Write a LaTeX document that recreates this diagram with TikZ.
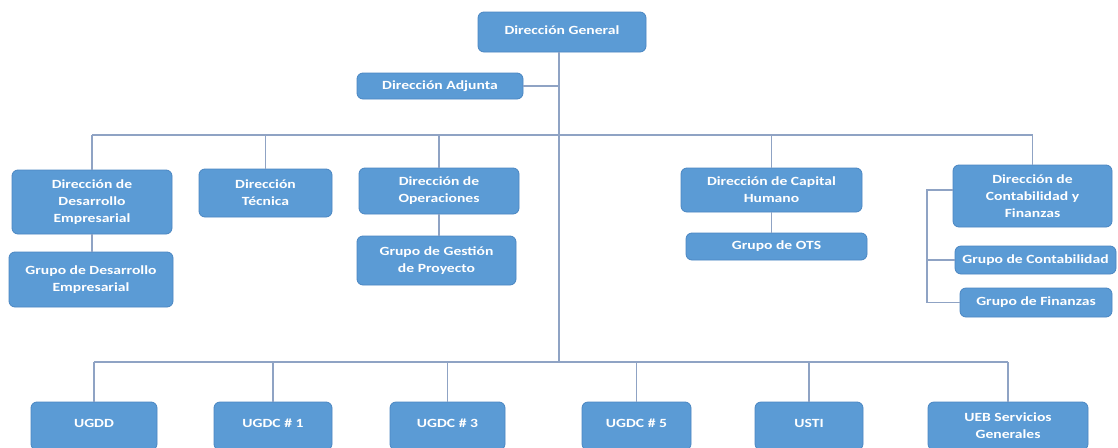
\documentclass[tikz,border=0pt]{standalone}
\usepackage{fontspec}
\newfontfamily\boxfont[FakeStretch=1.25]{Carlito}
\definecolor{boxfill}{HTML}{5B9BD5}
\definecolor{boxline}{HTML}{4A86C2}
\definecolor{conn}{HTML}{8FA3C4}
\tikzset{
  orgbox/.style={draw=boxline, line width=0.8pt, fill=boxfill, rounded corners=6pt,
    text=white, align=center, inner sep=0pt,
    font=\boxfont\bfseries\fontsize{12.5}{17}\selectfont},
  link/.style={draw=conn, line width=1.4pt}
}
\begin{document}
\begin{tikzpicture}[x=1pt,y=-1pt]
\clip (0,0) rectangle (1118,447);
\fill[white] (0,0) rectangle (1118,447);
% top
\node[orgbox, minimum width=168pt, minimum height=40pt] (DG) at (562,32) {\raisebox{4pt}{Dirección General}};
\node[orgbox, minimum width=166pt, minimum height=26pt] (DA) at (440,86) {Dirección Adjunta};
% second row
\node[orgbox, minimum width=160pt, minimum height=64pt] (DDE) at (92,202) {Dirección de\\Desarrollo\\Empresarial};
\node[orgbox, minimum width=164pt, minimum height=55pt] (GDE) at (91,279.5) {Grupo de Desarrollo\\Empresarial};
\node[orgbox, minimum width=133pt, minimum height=48pt] (DT) at (265.5,193) {Dirección\\Técnica};
\node[orgbox, minimum width=160pt, minimum height=46pt] (DO) at (439,191) {Dirección de\\Operaciones};
\node[orgbox, minimum width=159pt, minimum height=49pt] (GGP) at (436.5,260.5) {Grupo de Gestión\\de Proyecto};
\node[orgbox, minimum width=181pt, minimum height=44pt] (DCH) at (771.5,190) {Dirección de Capital\\Humano};
\node[orgbox, minimum width=181pt, minimum height=27pt] (GOTS) at (776.5,246.5) {Grupo de OTS};
\node[orgbox, minimum width=159pt, minimum height=62pt] (DCF) at (1032.5,196) {Dirección de\\Contabilidad y\\Finanzas};
\node[orgbox, minimum width=161pt, minimum height=28pt] (GC) at (1035.5,260) {Grupo de Contabilidad};
\node[orgbox, minimum width=152pt, minimum height=29pt] (GF) at (1036,302.5) {Grupo de Finanzas};
% bottom row
\node[orgbox, minimum width=126pt, minimum height=48pt] (U1) at (94,426) {\raisebox{5pt}{UGDD}};
\node[orgbox, minimum width=118pt, minimum height=48pt] (U2) at (273,426) {\raisebox{5pt}{UGDC \# 1}};
\node[orgbox, minimum width=115pt, minimum height=48pt] (U3) at (447.5,426) {\raisebox{5pt}{UGDC \# 3}};
\node[orgbox, minimum width=109pt, minimum height=48pt] (U4) at (636.5,426) {\raisebox{5pt}{UGDC \# 5}};
\node[orgbox, minimum width=108pt, minimum height=48pt] (U5) at (809,426) {\raisebox{5pt}{USTI}};
\node[orgbox, minimum width=160pt, minimum height=48pt] (U6) at (1008,426) {UEB Servicios\\Generales};
% connector coordinates
\coordinate (trunkTop) at (559,135);
\coordinate (trunkBot) at (559,362);
\coordinate (brk) at (927,190);
% trunk
\draw[link] (DG.south -| trunkTop) -- (trunkBot);
\draw[link] (DA.east) -- (DA.east -| trunkTop);
% upper bus
\draw[link] (DDE.north |- trunkTop) -- (DCF.north |- trunkTop);
\foreach \n in {DDE,DT,DO,DCH,DCF} \draw[link] (\n.north) -- (\n.north |- trunkTop);
% lower bus
\draw[link] (U1.north |- trunkBot) -- (U6.north |- trunkBot);
\foreach \n in {U1,U2,U3,U4,U5,U6} \draw[link] (\n.north) -- (\n.north |- trunkBot);
% sub groups
\draw[link] (DDE.south) -- (DDE.south |- GDE.north);
\draw[link] (DO.south) -- (DO.south |- GGP.north);
\draw[link] (DCH.south) -- (DCH.south |- GOTS.north);
\draw[link] (DCF.west |- brk) -- (brk) |- (GF.west);
\draw[link] (GC.west) -- (GC.west -| brk);
\end{tikzpicture}
\end{document}
